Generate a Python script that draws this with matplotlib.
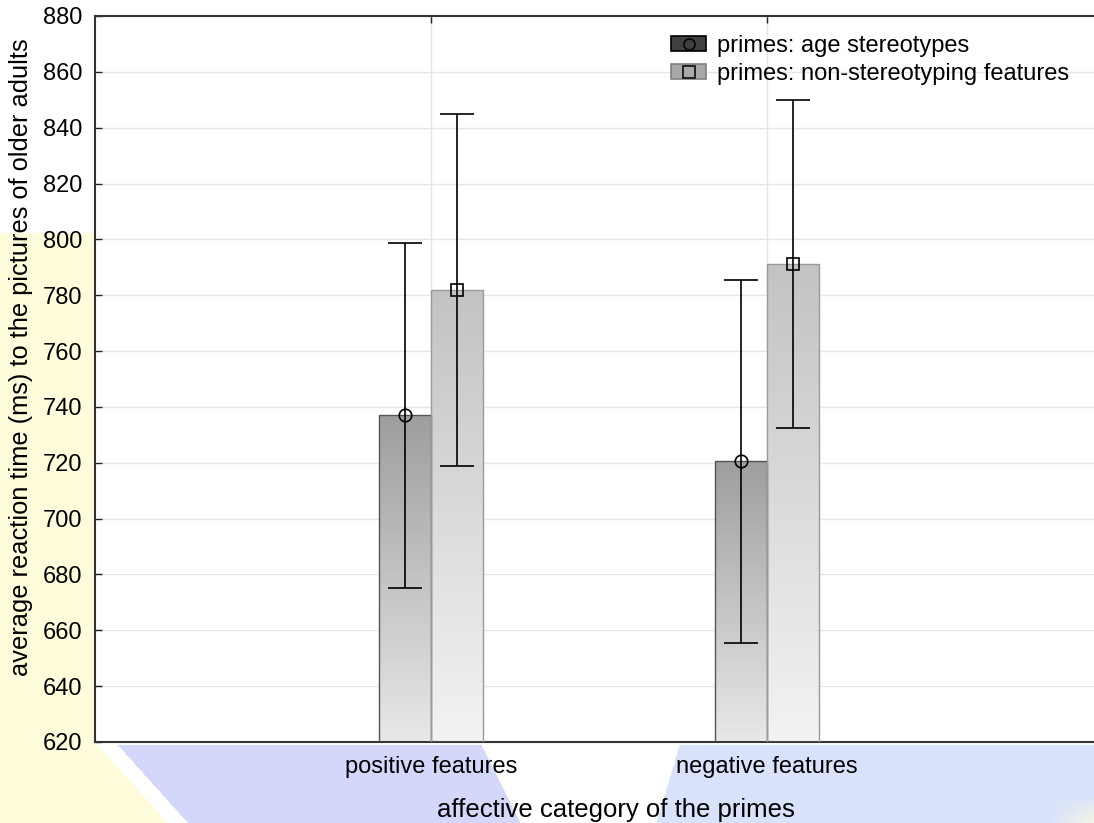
import numpy as np
import matplotlib
matplotlib.use("Agg")
import matplotlib.pyplot as plt
from matplotlib.patches import Patch
from matplotlib.lines import Line2D
from matplotlib.legend_handler import HandlerTuple
from matplotlib.colors import LinearSegmentedColormap

plt.rcParams['font.family'] = ['Liberation Sans', 'DejaVu Sans']

# Mean reaction times and error-bar half widths (ms)
categories = ["positive features", "negative features"]
series_names = ["primes: age stereotypes", "primes: non-stereotyping features"]
stereotype_means = [737.0, 720.5]
stereotype_err = [61.7, 65.0]
neutral_means = [782.0, 791.2]
neutral_err = [63.0, 58.8]
y_ticks = list(range(620, 881, 20))

W, H = 1094, 823
fig = plt.figure(figsize=(W / 100, H / 100), dpi=100)

# Soft background wash behind the plot area
bg = fig.add_axes([0, 0, 1, 1], zorder=-10)
bg.set_axis_off()
yy, xx = np.mgrid[0:H, 0:W]
img = np.ones((H, W, 3))
yellow = np.array([1.0, 0.992, 0.86])
blue = np.array([0.83, 0.85, 0.985])
blue2 = np.array([0.85, 0.89, 0.985])
ymask = ((xx < 95) & (yy > 232)) | ((yy > 742) & (xx < 95 + (yy - 742) * 0.9))
img[ymask] = yellow
band = (yy > 744)
diag = xx - 105 - (yy - 742) * 0.9
blue_left = band & (diag > 10) & (xx < 480 + (yy - 742) * 0.5)
blue_right = band & (xx > 680 - (yy - 742) * 0.3)
img[blue_left] = blue
img[blue_right] = blue2
fade = np.clip((xx - 1050) / 50.0, 0, 1) * np.clip((yy - 795) / 25.0, 0, 1)
img = img * (1 - fade[..., None] * 0.8) + yellow * fade[..., None] * 0.8
bg.imshow(img, extent=[0, 1, 0, 1], aspect='auto', interpolation='bilinear')

ax = fig.add_axes([95 / W, (H - 742) / H, 1008 / W, (742 - 16) / H])
ax.set_facecolor('white')

x = np.arange(1, len(categories) + 1)
bw = 0.155
dark_cmap = LinearSegmentedColormap.from_list('dk', ['#e8e8e8', '#9e9e9e'])
light_cmap = LinearSegmentedColormap.from_list('lt', ['#f3f3f3', '#c3c3c3'])
grad = np.linspace(0, 1, 256).reshape(-1, 1)

bars1 = ax.bar(x - bw / 2, np.array(stereotype_means) - 620, bw, bottom=620,
               facecolor='none', edgecolor='#555555', linewidth=1.0, zorder=3)
bars2 = ax.bar(x + bw / 2, np.array(neutral_means) - 620, bw, bottom=620,
               facecolor='none', edgecolor='#9a9a9a', linewidth=1.0, zorder=3)
for bars, cmap in ((bars1, dark_cmap), (bars2, light_cmap)):
    for b in bars:
        x0, y0 = b.get_x(), b.get_y()
        im = ax.imshow(grad, cmap=cmap, origin='lower', aspect='auto',
                       extent=[x0, x0 + b.get_width(), y0, y0 + b.get_height()],
                       zorder=2, interpolation='bilinear')
        im.set_clip_path(b)

ax.errorbar(x - bw / 2, stereotype_means, yerr=stereotype_err, fmt='o',
            mfc='none', mec='black', ms=9, mew=1.2, ecolor='black',
            elinewidth=1.2, capsize=12, capthick=1.2, zorder=5)
ax.errorbar(x + bw / 2, neutral_means, yerr=neutral_err, fmt='s',
            mfc='none', mec='black', ms=8, mew=1.2, ecolor='black',
            elinewidth=1.2, capsize=12, capthick=1.2, zorder=5)

ax.set_xlim(0, 3)
ax.set_ylim(620, 880)
ax.set_yticks(y_ticks)
ax.set_xticks(x)
ax.set_xticklabels(categories)
ax.grid(True, color='#e6e6e6', linewidth=1.0, zorder=0)
ax.set_axisbelow(True)
ax.tick_params(axis='both', direction='in', length=5, width=1.0,
               labelsize=17, colors='#222222', labelcolor='black')
ax.tick_params(axis='x', top=True, pad=10)
ax.tick_params(axis='y', pad=9)
for s in ('left', 'bottom', 'top'):
    ax.spines[s].set_color('#333333')
    ax.spines[s].set_linewidth(1.5)
ax.spines['right'].set_visible(False)

ax.set_xlabel('affective category of the primes', fontsize=18.5)
ax.xaxis.set_label_coords((616 - 95) / 1008, -0.077)
ax.set_ylabel('average reaction time (ms) to the pictures of older adults',
              fontsize=18.3)
ax.yaxis.set_label_coords(-0.062, (742 - 357) / 726)

h1 = (Patch(facecolor='#404040', edgecolor='black', linewidth=1.2),
      Line2D([], [], marker='o', ls='none', mfc='none', mec='black', ms=8, mew=1.1))
h2 = (Patch(facecolor='#a8a8a8', edgecolor='#808080', linewidth=1.2),
      Line2D([], [], marker='s', ls='none', mfc='none', mec='black', ms=8, mew=1.1))
leg = ax.legend([h1, h2], series_names, handler_map={tuple: HandlerTuple(ndivide=1, pad=0)},
                loc='upper left', bbox_to_anchor=((671 - 95) / 1008, (742 - 35) / 726),
                bbox_transform=ax.transAxes, frameon=False, fontsize=17,
                handlelength=1.5, handleheight=0.62, handletextpad=0.45,
                labelspacing=0.25, borderaxespad=0, borderpad=0)
leg.set_zorder(10)

fig.savefig('out.png', dpi=100)
